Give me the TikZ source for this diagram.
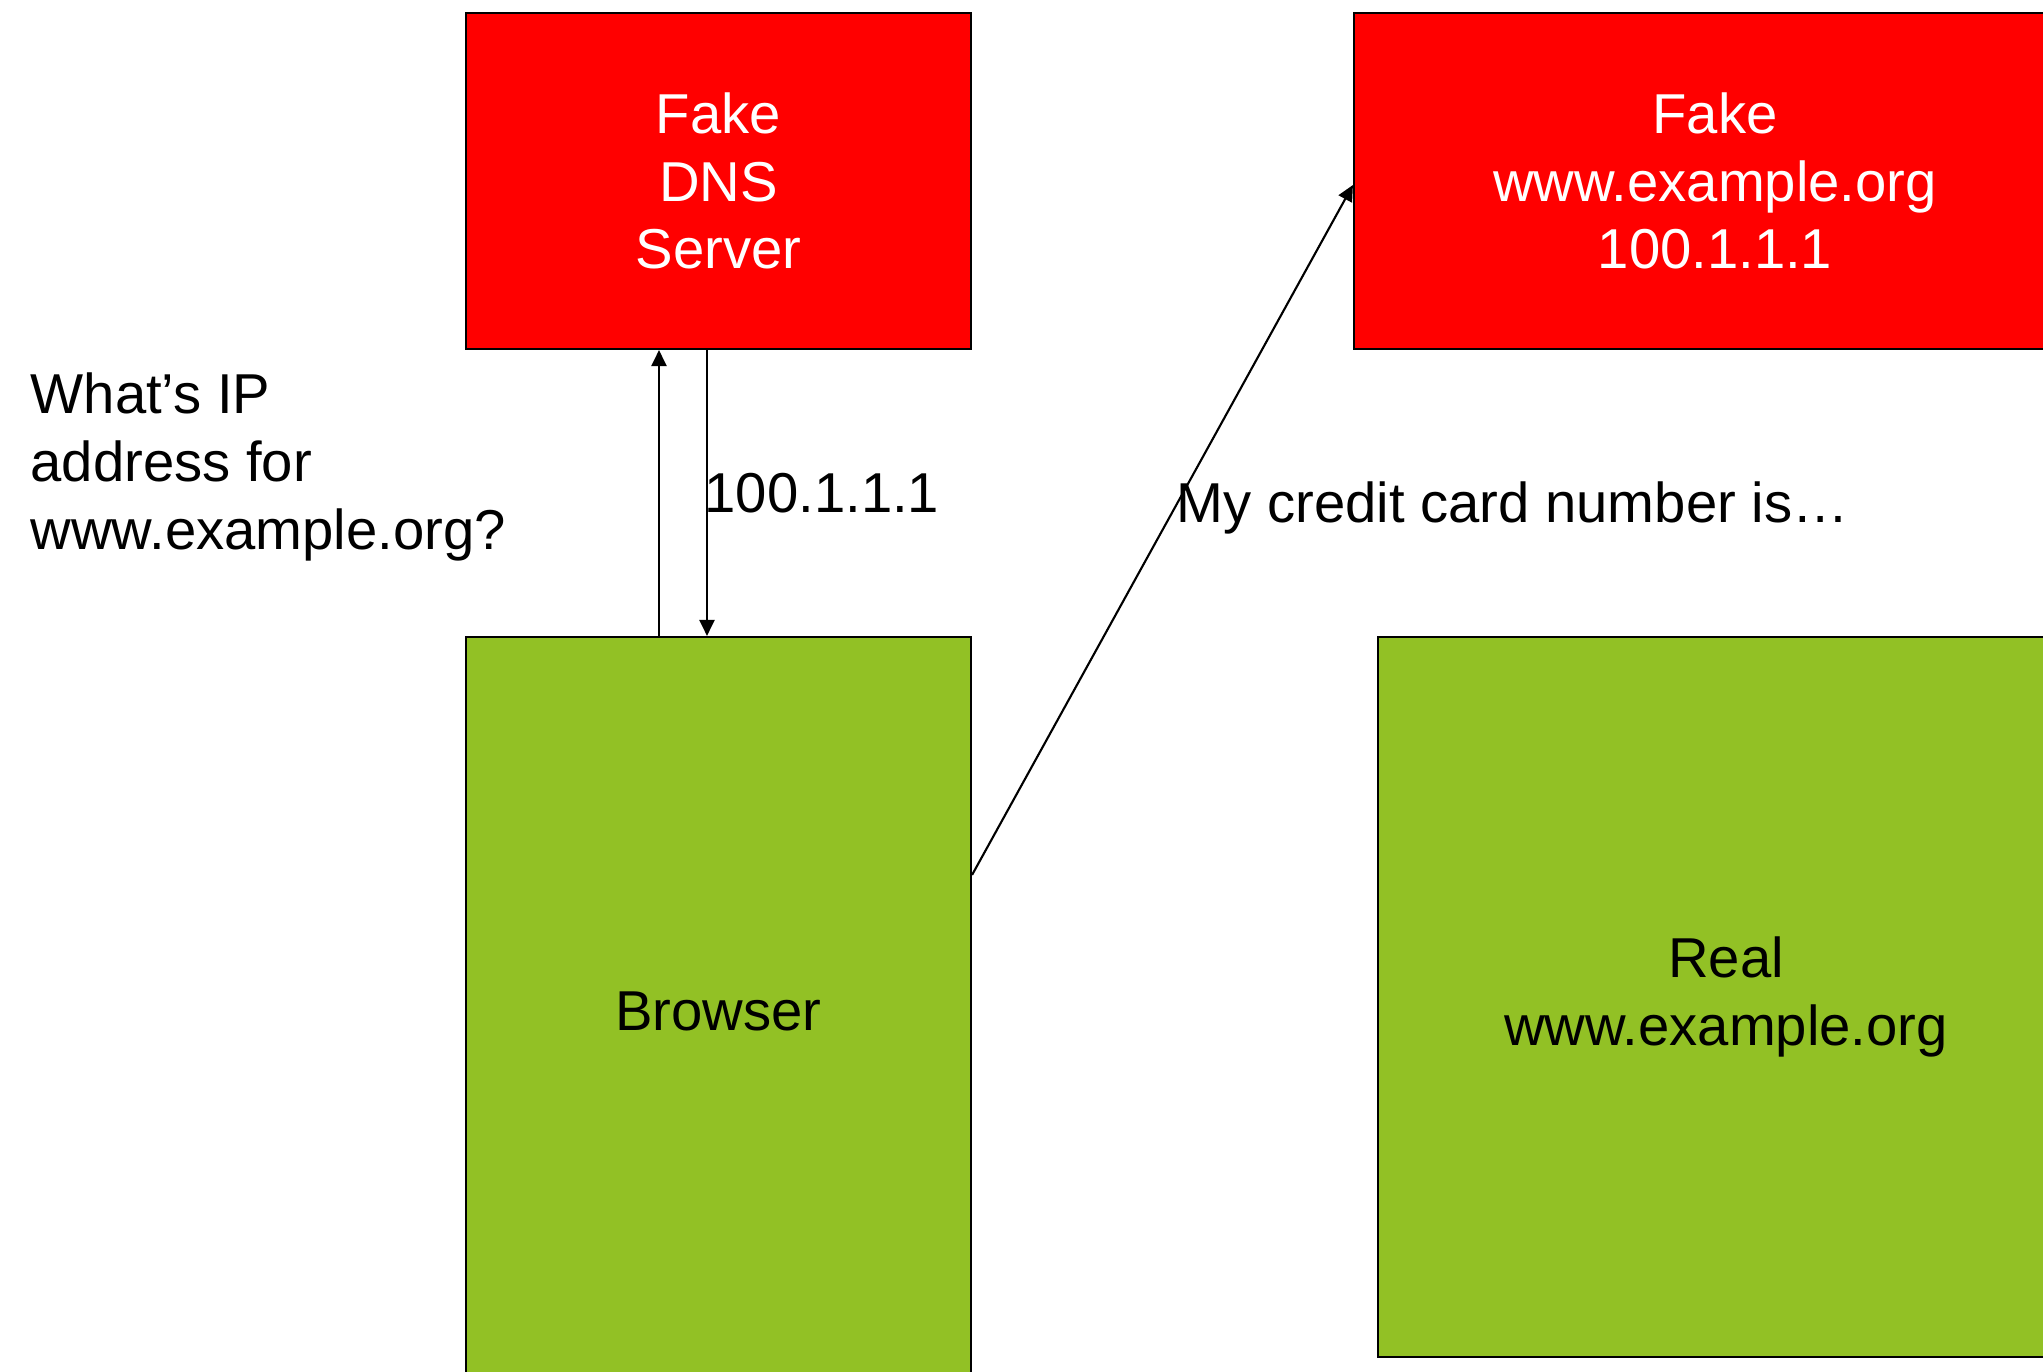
\documentclass[tikz,border=0pt]{standalone}
\usepackage{fontspec}
\setmainfont{Liberation Sans}
\usepackage{tikz}
\usetikzlibrary{positioning,arrows.meta,calc}
\definecolor{fakered}  {HTML}{FF0000}
\definecolor{okgreen}  {HTML}{92C125}
\definecolor{ink}      {HTML}{000000}
\tikzset{
  every node/.style={font=\fontsize{16}{19.3}\selectfont},
  % --- nodes
  box/.style    = {draw=ink, line width=0.6pt, align=center, inner sep=0pt},
  fake/.style   = {box, fill=fakered, text=white},
  real/.style   = {box, fill=okgreen, text=ink},
  lbl/.style    = {align=left, inner sep=0pt, anchor=west},
  % --- edges
  e/.style      = {-{Triangle[width=1.5mm,length=1.6mm]}, line width=0.6pt, draw=ink},
}
\begin{document}
\begin{tikzpicture}
  \useasboundingbox (0,0) rectangle (20.43,-13.72);
  \node[fake, minimum width=5.05cm, minimum height=3.36cm] (dns)     at (7.185,-1.81) {Fake\\DNS\\Server};
  \node[fake, minimum width=7.22cm, minimum height=3.36cm] (fakeweb) at (17.15,-1.81) {Fake\\www.example.org\\100.1.1.1};
  \node[real, minimum width=5.05cm, minimum height=7.48cm] (browser) at (7.185,-10.11) {Browser};
  \node[real, minimum width=6.96cm, minimum height=7.20cm] (realweb) at (17.26,-9.97) {Real\\www.example.org};
  % dns query and answer
  \draw[e] ([xshift=-0.595cm]browser.north) -- ([xshift=-0.595cm]dns.south);
  \draw[e] ([xshift=-0.115cm]dns.south) -- ([xshift=-0.115cm]browser.north);
  % card number goes to the fake site
  \draw[e] ([yshift=-2.39cm]browser.north east) -- ([yshift=-0.04cm]fakeweb.west);
  \node[lbl] (ask)    at (0.30,-4.67)  {What’s IP\\address for\\www.example.org?};
  \node[lbl] (answer) at (7.04,-4.93)  {100.1.1.1};
  \node[lbl] (card)   at (11.76,-5.08) {My credit card number is…};
\end{tikzpicture}
\end{document}
